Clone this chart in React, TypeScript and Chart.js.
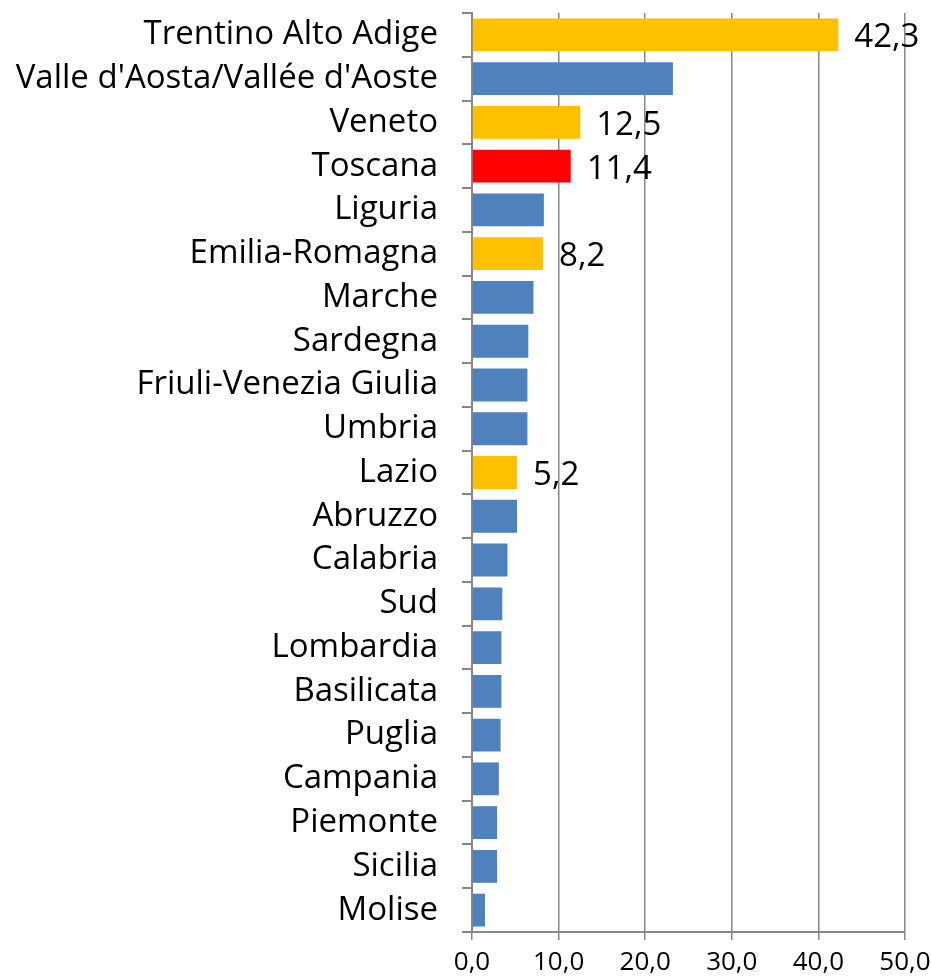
import React, { useEffect, useRef } from "react";
import { Chart, registerables } from "chart.js";

Chart.register(...registerables);

const categories = [
  "Trentino Alto Adige",
  "Valle d'Aosta/Vallée d'Aoste",
  "Veneto",
  "Toscana",
  "Liguria",
  "Emilia-Romagna",
  "Marche",
  "Sardegna",
  "Friuli-Venezia Giulia",
  "Umbria",
  "Lazio",
  "Abruzzo",
  "Calabria",
  "Sud",
  "Lombardia",
  "Basilicata",
  "Puglia",
  "Campania",
  "Piemonte",
  "Sicilia",
  "Molise",
];

const values = [42.3, 23.2, 12.5, 11.4, 8.3, 8.2, 7.1, 6.5, 6.4, 6.4, 5.2, 5.2, 4.1, 3.5, 3.4, 3.4, 3.3, 3.1, 2.9, 2.9, 1.5];

// label shown next to the bar ("" = no label)
const valueLabels = ["42,3", "", "12,5", "11,4", "", "8,2", "", "", "", "", "5,2", "", "", "", "", "", "", "", "", "", ""];

const barColors = [
  "#FFC000", "#4F81BD", "#FFC000", "#FF0000", "#4F81BD", "#FFC000", "#4F81BD",
  "#4F81BD", "#4F81BD", "#4F81BD", "#FFC000", "#4F81BD", "#4F81BD", "#4F81BD",
  "#4F81BD", "#4F81BD", "#4F81BD", "#4F81BD", "#4F81BD", "#4F81BD", "#4F81BD",
];

const xTicks = [0, 10, 20, 30, 40, 50];

const FONT = "'Open Sans', 'Noto Sans', sans-serif";

const labelPlugin = {
  id: "valueLabels",
  afterDatasetsDraw(chart: any) {
    const ctx = chart.ctx;
    const meta = chart.getDatasetMeta(0);
    ctx.save();
    ctx.fillStyle = "#000";
    ctx.font = `33px ${FONT}`;
    ctx.textAlign = "left";
    ctx.textBaseline = "middle";
    meta.data.forEach((bar: any, i: number) => {
      const t = valueLabels[i];
      if (!t) return;
      ctx.fillText(t, bar.x + 16, bar.y + 3);
    });
    ctx.restore();
  },
};

export default function App() {
  const ref = useRef<HTMLCanvasElement>(null);
  useEffect(() => {
    document.body.style.margin = "0";
    const chart = new Chart(ref.current!, {
      type: "bar",
      data: {
        labels: categories,
        datasets: [
          {
            data: values,
            backgroundColor: barColors,
            borderWidth: 0,
            categoryPercentage: 0.75,
            barPercentage: 1,
          },
        ],
      },
      options: {
        indexAxis: "y",
        animation: false,
        responsive: false,
        layout: { padding: { left: 0, right: 26, top: 13, bottom: 0 } },
        plugins: { legend: { display: false }, tooltip: { enabled: false } },
        scales: {
          x: {
            min: 0,
            max: 50,
            afterBuildTicks: (s: any) => {
              s.ticks = xTicks.map((v) => ({ value: v }));
            },
            afterFit: (s: any) => {
              s.height = 47;
              s.paddingLeft = 0;
              s.paddingRight = 0;
            },
            ticks: {
              color: "#000",
              font: { family: FONT, size: 26 },
              padding: 7,
              callback: (v: any) => Number(v).toFixed(1).replace(".", ","),
            },
            grid: {
              color: "#878787",
              lineWidth: 1.5,
              tickLength: 8,
              tickColor: "#878787",
            },
            border: { color: "#878787", width: 2 },
          },
          y: {
            afterFit: (s: any) => {
              s.width = 472;
              s.paddingTop = 0;
              s.paddingBottom = 0;
            },
            ticks: {
              color: "#000",
              font: { family: FONT, size: 33 },
              padding: 24,
              autoSkip: false,
            },
            grid: {
              offset: true,
              drawOnChartArea: false,
              tickLength: 10,
              color: "#878787",
              lineWidth: 2,
            },
            border: { color: "#878787", width: 2 },
          },
        },
      },
      plugins: [labelPlugin],
    });
    return () => chart.destroy();
  }, []);
  return (
    <div style={{ position: "relative", width: 931, height: 979 }}>
      <canvas ref={ref} width={931} height={979} />
    </div>
  );
}
